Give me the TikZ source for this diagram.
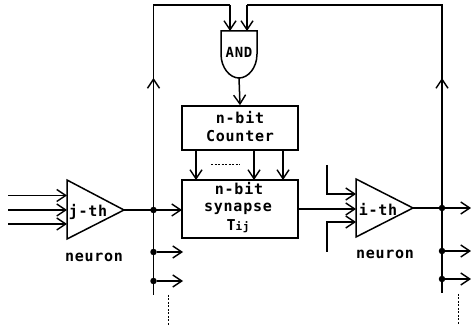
\documentclass[tikz,border=0pt]{standalone}
\usepackage{fontspec}
\usepackage{xcolor}
\usepackage{tikz}
\usetikzlibrary{arrows.meta}
\newfontfamily\blockfont{DejaVu Sans Mono}[LetterSpace=5]
\tikzset{
  wire/.style={line width=1.5pt},
  sig/.style={wire,-{Straight Barb[length=9pt,width=12pt,line width=1.4pt]}},
  blk/.style={draw,line width=1.6pt,inner sep=0pt,align=center},
  lbl/.style={font=\blockfont\bfseries\fontsize{15}{18}\selectfont,inner sep=0pt},
  jn/.style={circle,fill=black,inner sep=0pt,minimum size=6.5pt},
  dots/.style={line width=1pt,dash pattern=on 2pt off 1.5pt}
}
\begin{document}
\begin{tikzpicture}[x=1pt,y=-1pt]
\useasboundingbox (0,0) rectangle (471,328);
% boxes
\node[blk,minimum width=116pt,minimum height=44pt] (counter) at (240,128) {};
\node[blk,minimum width=116pt,minimum height=58pt] (synapse) at (240,209) {};
\node[lbl] (ctext) at (240,118) {n-bit};
\node[lbl] (ctext2) at (240,136) {Counter};
\node[lbl] (stext) at (239,189) {n-bit};
\node[lbl] (stext2) at (238,209) {synapse};
\node[lbl] (stext3) at (238,226) {T{\fontsize{11}{12}\selectfont ij}};
% j-th neuron
\coordinate (jtop) at (67,180);
\coordinate (jbot) at (67,239);
\coordinate (japex) at (124,210);
\draw[wire] (jtop)--(japex)--(jbot)--cycle;
\node[lbl] (jtext) at (88,212) {j-th};
\node[lbl] (jname) at (94,257) {neuron};
% i-th neuron
\coordinate (itop) at (356,179);
\coordinate (ibot) at (356,237);
\coordinate (iapex) at (413,208);
\draw[wire] (itop)--(iapex)--(ibot)--cycle;
\node[lbl] (itext) at (378,209) {i-th};
\node[lbl] (iname) at (385,254) {neuron};
% AND gate
\coordinate (andtop) at (239,31);
\draw[wire] (221,31)--(257,31)--(257,54)
  .. controls (257,68) and (248,78) .. (239,78)
  .. controls (230,78) and (221,68) .. (221,54)--cycle;
\node[lbl,font=\blockfont\bfseries\fontsize{14}{18}\selectfont] (andtext) at (239,52) {AND};
% inputs of j-th
\coordinate (ja) at (8,195.5);
\coordinate (jb) at (8,210);
\coordinate (jc) at (8,224);
\coordinate (jae) at (67,195.5);
\coordinate (jbe) at (67,210);
\coordinate (jce) at (67,224);
\draw[sig] (ja)--(jae);
\draw[sig] (jb)--(jbe);
\draw[sig] (jc)--(jce);
% left bus
\coordinate (lbot) at (153.5,295);
\coordinate (lup) at (153.5,78);
\coordinate (ltop) at (153.5,5);
\coordinate (andl) at (230,5);
\coordinate (andle) at (230,31);
\coordinate (lmid) at (153.5,210);
\coordinate (lb) at (153.5,252);
\coordinate (lc) at (153.5,281);
\coordinate (lbe) at (183,252);
\coordinate (lce) at (183,281);
\coordinate (sin) at (182,210);
\draw[wire] (japex)--(lmid);
\draw[sig] (lmid)--(sin);
\draw[wire] (lbot)--(lup);
\draw[sig] (lmid)--(lup);
\draw[wire] (lup)--(ltop)--(andl);
\draw[sig] (andl)--(andle);
\node[jn] (ld) at (lmid) {};
\node[jn] (ldb) at (lb) {};
\node[jn] (ldc) at (lc) {};
\draw[sig] (ldb)--(lbe);
\draw[sig] (ldc)--(lce);
\coordinate (ldota) at (168.5,295);
\coordinate (ldotb) at (168.5,325);
\draw[dots] (ldota)--(ldotb);
% right bus
\coordinate (rbot) at (442,293);
\coordinate (rup) at (442,78);
\coordinate (rtop) at (442,5);
\coordinate (andr) at (247,5);
\coordinate (andre) at (247,31);
\coordinate (rmid) at (442,208);
\coordinate (rb) at (442,251);
\coordinate (rc) at (442,279);
\coordinate (rae) at (471,208);
\coordinate (rbe) at (471,251);
\coordinate (rce) at (471,279);
\draw[wire] (iapex)--(rmid);
\draw[wire] (rbot)--(rup);
\draw[sig] (rmid)--(rup);
\draw[wire] (rup)--(rtop)--(andr);
\draw[sig] (andr)--(andre);
\node[jn] (rd) at (rmid) {};
\node[jn] (rdb) at (rb) {};
\node[jn] (rdc) at (rc) {};
\draw[sig] (rd)--(rae);
\draw[sig] (rdb)--(rbe);
\draw[sig] (rdc)--(rce);
\coordinate (rdota) at (458,294);
\coordinate (rdotb) at (458,325);
\draw[dots] (rdota)--(rdotb);
% AND to counter, counter to synapse
\coordinate (andout) at (239,78);
\draw[sig] (andout)--(counter.north);
\foreach \xx/\nn in {196/a,254/b,283/c} {
  \coordinate (cnt\nn) at (\xx,150);
  \coordinate (syn\nn) at (\xx,180);
  \draw[sig] (cnt\nn)--(syn\nn);
}
\coordinate (cdota) at (211,165);
\coordinate (cdotb) at (240,165);
\draw[dots] (cdota)--(cdotb);
% synapse to i-th
\coordinate (sout) at (298,209);
\coordinate (iin) at (356,209);
\draw[sig] (sout)--(iin);
\coordinate (iaa) at (327,165);
\coordinate (iab) at (327,194);
\coordinate (iac) at (356,194);
\draw[sig] (iaa)--(iab)--(iac);
\coordinate (iba) at (327,252);
\coordinate (ibb) at (327,222);
\coordinate (ibc) at (356,222);
\draw[sig] (iba)--(ibb)--(ibc);
\end{tikzpicture}
\end{document}
